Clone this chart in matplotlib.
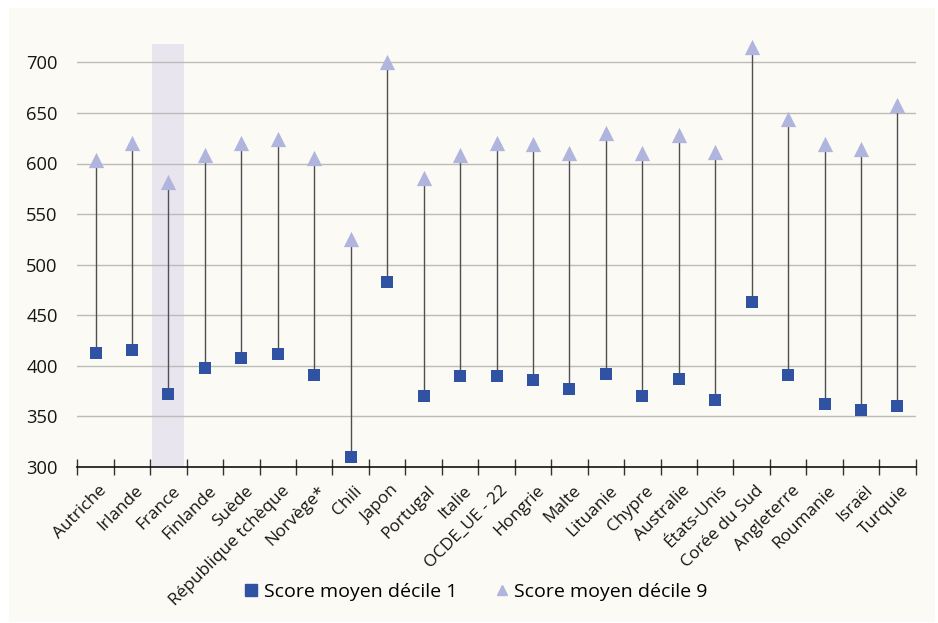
import matplotlib
matplotlib.use("Agg")
import matplotlib.pyplot as plt
from matplotlib.patches import Rectangle
from matplotlib.lines import Line2D

countries = ["Autriche", "Irlande", "France", "Finlande", "Suède", "République tchèque",
             "Norvège*", "Chili", "Japon", "Portugal", "Italie", "OCDE_UE - 22", "Hongrie",
             "Malte", "Lituanie", "Chypre", "Australie", "États-Unis", "Corée du Sud",
             "Angleterre", "Roumanie", "Israël", "Turquie"]
decile1 = [413, 416, 372, 398, 408, 412, 391, 310, 483, 370, 390, 390, 386,
           377, 392, 370, 387, 366, 463, 391, 362, 356, 360]
decile9 = [603, 620, 582, 608, 620, 624, 605, 525, 700, 586, 608, 620, 619,
           610, 630, 610, 628, 611, 715, 644, 619, 614, 658]
highlight = "France"
yticks = [300, 350, 400, 450, 500, 550, 600, 650, 700]

plt.rcParams["font.family"] = ["Open Sans", "DejaVu Sans"]

fig = plt.figure(figsize=(9.38, 6.23), dpi=100, facecolor="white")
fig.patches.append(Rectangle((9 / 938, 1 - 622 / 623), 926 / 938, 614 / 623,
                             transform=fig.transFigure, facecolor="#FCFAF5",
                             edgecolor="none", zorder=-10))

ax = fig.add_axes([77.3 / 938, 1 - 467 / 623, 838.4 / 938, (467 - 42.1) / 623])
ax.set_facecolor("none")
n = len(countries)
xs = list(range(n))
ax.set_xlim(-0.5, n - 0.5)
ax.set_ylim(300, 720)

hi = countries.index(highlight)
ax.bar([hi], [718 - 300], bottom=300, width=0.88, color="#E9E5EE", zorder=0.5)

ax.vlines(xs, decile1, decile9, color="#505050", linewidth=1.0, zorder=2)
ax.scatter(xs, decile1, marker="s", s=64, color="#2F52A3", zorder=3, linewidths=0,
           clip_on=False)
ax.scatter(xs, decile9, marker="^", s=121, color="#B0B5DD", zorder=3, linewidths=0,
           clip_on=False)

ax.set_yticks(yticks)
ax.set_yticklabels([str(v) for v in yticks], fontsize=13.2, color="#161616")
ax.tick_params(axis="y", length=0, pad=14)
for v in yticks[1:]:
    ax.axhline(v, color="#BDBBB7", linewidth=1.0, zorder=1)

ax.set_xticks([i - 0.5 for i in range(n + 1)])
ax.set_xticklabels([])
ax.tick_params(axis="x", direction="inout", length=12, width=1, color="#333333")
for i, c in enumerate(countries):
    ax.annotate(c, xy=(i, 300), xycoords="data", xytext=(2.5, -11.3),
                textcoords="offset points", rotation=45, rotation_mode="anchor",
                ha="right", va="top", fontsize=12.4, color="#161616")

for s in ["left", "top", "right"]:
    ax.spines[s].set_visible(False)
ax.spines["bottom"].set_color("#111111")
ax.spines["bottom"].set_linewidth(1.2)
ax.spines["bottom"].set_zorder(4)

handles = [Line2D([], [], marker="s", linestyle="none", color="#2F52A3", markersize=8),
           Line2D([], [], marker="^", linestyle="none", color="#B0B5DD", markersize=7.5)]
fig.legend(handles, ["Score moyen décile 1", "Score moyen décile 9"], loc="center",
           bbox_to_anchor=(0.507, 1 - 591.7 / 623), ncol=2, frameon=False,
           fontsize=14, handletextpad=0.25, columnspacing=1.9, handlelength=0.8)

fig.savefig("out.png", dpi=100, facecolor="white")
